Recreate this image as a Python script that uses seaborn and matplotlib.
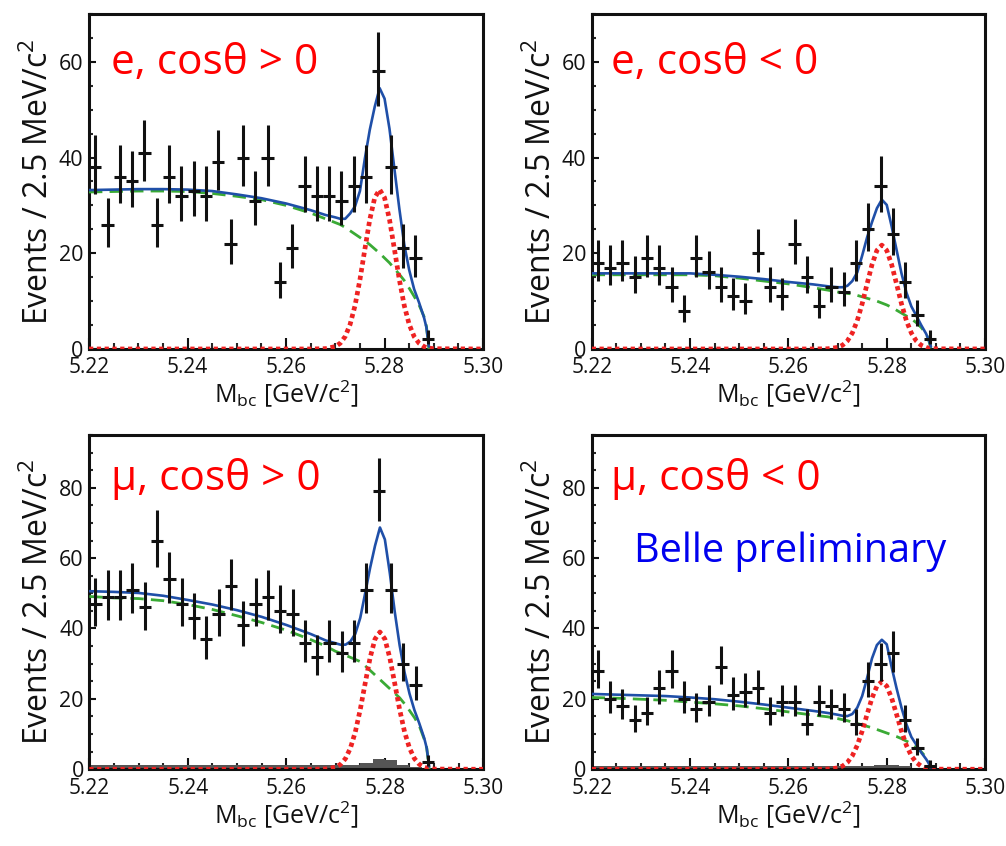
import numpy as np
import pandas as pd
import matplotlib
matplotlib.use("Agg")
import matplotlib.pyplot as plt
import seaborn as sns
from matplotlib.ticker import MultipleLocator

sns.set_theme(style="ticks")
plt.rcParams["font.family"] = ["Open Sans", "DejaVu Sans"]
plt.rcParams["mathtext.fontset"] = "custom"
plt.rcParams["mathtext.rm"] = "Open Sans"
plt.rcParams["mathtext.it"] = "Open Sans:italic"
plt.rcParams["mathtext.bf"] = "Open Sans:bold"

# ---------------- data ----------------
x_lo, x_hi, bin_width = 5.22, 5.30, 0.0025
n_filled = 28  # bins with entries (up to 5.29)

counts_e_pos = [38, 26, 36, 35, 41, 26, 36, 32, 33, 32, 39, 22, 40, 31, 40, 14,
                21, 34, 32, 32, 31, 34, 36, 58, 38, 21, 19, 2]
counts_e_neg = [18, 17, 18, 15, 19, 17, 13, 8, 19, 16, 13, 11, 10, 20, 13, 11,
                22, 15, 9, 13, 12, 18, 25, 34, 24, 14, 7, 2]
counts_mu_pos = [47, 49, 49, 51, 46, 65, 54, 47, 43, 37, 44, 52, 41, 47, 49, 45,
                 44, 36, 32, 36, 33, 36, 51, 79, 51, 30, 24, 2]
counts_mu_neg = [28, 20, 18, 14, 16, 23, 28, 20, 17, 19, 29, 21, 22, 23, 16, 19,
                 19, 13, 19, 18, 17, 13, 25, 30, 33, 14, 6, 1]

# peaking background histogram (grey), 32 bins
peak_mu_pos = [1.2, 1.2, 1.2, 1.2, 1.2, 1.2, 1.2, 1.2, 1.2, 1.2, 1.2, 1.2, 1.2, 1.2,
               1.2, 1.2, 1.2, 1.2, 1.2, 1.2, 1.2, 1.2, 1.8, 2.8, 2.7, 1.2, 0.7, 0.4,
               0.0, 0.0, 0.0, 0.0]
peak_mu_neg = [0.8, 0.8, 0.8, 0.8, 0.8, 0.8, 0.8, 0.8, 0.8, 0.8, 0.8, 0.8, 0.8, 0.8,
               0.8, 0.8, 0.8, 0.8, 0.8, 0.8, 0.8, 0.8, 0.8, 1.3, 1.3, 0.8, 0.4, 0.2,
               0.0, 0.0, 0.0, 0.0]

# fit curves sampled along M_bc
mbc_grid = [5.220, 5.225, 5.230, 5.235, 5.240, 5.245, 5.250, 5.255, 5.260, 5.265,
            5.268, 5.270, 5.271, 5.272, 5.273, 5.274, 5.275, 5.276, 5.277, 5.278,
            5.279, 5.280, 5.281, 5.282, 5.283, 5.284, 5.285, 5.286, 5.287, 5.288,
            5.2885, 5.289, 5.290, 5.300]
n_bkg = 32  # background / total end at the kinematic endpoint 5.289

sig_shape = [0, 0, 0, 0, 0, 0, 0, 0, 0, 0,
             0.002, 0.015, 0.036, 0.078, 0.154, 0.272, 0.435, 0.626, 0.812, 0.949,
             1.0, 0.949, 0.812, 0.626, 0.435, 0.272, 0.154, 0.078, 0.036, 0.015,
             0.009, 0.0055, 0.0015, 0.0]
sig_amp = [33.3, 21.7, 39.0, 24.9]

bkg_e_pos = [32.8, 32.9, 33.0, 33.0, 32.9, 32.5, 31.9, 31.2, 30.0, 28.4,
             27.2, 26.4, 26.0, 25.4, 24.7, 24.0, 23.3, 22.6, 21.8, 20.9,
             20.0, 19.0, 18.0, 16.8, 15.6, 14.3, 12.7, 11.0, 9.2, 6.8, 4.7, 0.0]
bkg_e_neg = [15.5, 15.5, 15.5, 15.5, 15.5, 15.3, 14.8, 14.2, 13.6, 12.8,
             12.3, 11.9, 11.8, 11.6, 11.5, 11.2, 10.9, 10.6, 10.3, 10.0,
             9.6, 9.2, 8.7, 8.1, 7.5, 6.9, 6.3, 5.5, 4.5, 3.2, 2.0, 0.0]
bkg_mu_pos = [49.1, 48.7, 48.5, 47.9, 46.8, 45.4, 43.6, 41.7, 39.5, 36.8,
              35.0, 33.5, 33.0, 32.4, 31.8, 31.2, 30.6, 29.4, 28.1, 26.8,
              25.5, 24.2, 22.9, 21.6, 20.3, 18.6, 16.7, 14.7, 12.3, 8.5, 6.0, 0.0]
bkg_mu_neg = [20.4, 20.2, 19.9, 19.6, 19.1, 18.6, 18.0, 17.2, 16.3, 15.4,
              14.9, 14.4, 14.1, 13.8, 13.4, 13.0, 12.6, 12.2, 11.8, 11.3,
              10.8, 10.3, 9.8, 9.3, 8.7, 8.0, 7.3, 6.3, 5.0, 3.4, 2.2, 0.0]

tot_e_pos = [33.2, 33.3, 33.4, 33.4, 33.3, 33.0, 32.3, 31.5, 30.4, 29.0,
             28.0, 27.5, 27.2, 27.2, 28.3, 29.8, 33.0, 39.8, 45.8, 50.6,
             54.5, 52.3, 46.0, 37.6, 29.3, 21.8, 16.5, 12.5, 9.7, 6.6, 4.5, 0.5]
tot_e_neg = [15.8, 15.8, 15.8, 15.8, 15.8, 15.5, 15.1, 14.6, 14.0, 13.5,
             13.1, 12.9, 12.9, 13.2, 14.2, 16.0, 19.5, 23.3, 26.5, 29.4,
             31.2, 30.1, 25.6, 20.7, 15.8, 11.8, 8.9, 7.0, 5.0, 3.2, 2.0, 0.5]
tot_mu_pos = [50.6, 50.4, 50.1, 49.3, 48.1, 46.8, 45.2, 43.3, 41.0, 38.4,
              36.6, 35.8, 35.4, 35.4, 36.3, 38.5, 43.0, 50.0, 57.2, 63.5,
              68.7, 65.3, 55.8, 44.8, 35.2, 27.5, 21.5, 16.8, 13.0, 8.8, 6.0, 0.8]
tot_mu_neg = [21.4, 21.2, 21.0, 20.8, 20.4, 19.9, 19.2, 18.4, 17.5, 16.6,
              16.0, 15.5, 15.2, 15.1, 15.7, 17.5, 20.8, 25.9, 31.5, 35.3,
              36.8, 35.5, 29.0, 23.0, 17.5, 12.8, 9.2, 7.0, 4.8, 2.9, 1.8, 0.3]

titles = ["e, cos\u03b8 > 0", "e, cos\u03b8 < 0", "\u03bc, cos\u03b8 > 0", "\u03bc, cos\u03b8 < 0"]
y_tops = [70, 70, 95, 95]
x_ticks = [5.22, 5.24, 5.26, 5.28, 5.30]
x_ticklabels = ["5.22", "5.24", "5.26", "5.28", "5.30"]

panels = [
    (counts_e_pos, bkg_e_pos, tot_e_pos, None),
    (counts_e_neg, bkg_e_neg, tot_e_neg, None),
    (counts_mu_pos, bkg_mu_pos, tot_mu_pos, peak_mu_pos),
    (counts_mu_neg, bkg_mu_neg, tot_mu_neg, peak_mu_neg),
]

# ---------------- figure ----------------
fig = plt.figure(figsize=(10.06, 8.46), dpi=100)
positions = [[0.0885, 0.5875, 0.3917, 0.3960],
             [0.5882, 0.5875, 0.3910, 0.3960],
             [0.0888, 0.0907, 0.3917, 0.3952],
             [0.5882, 0.0907, 0.3910, 0.3952]]

n_bins = int(round((x_hi - x_lo) / bin_width))
edges = np.linspace(x_lo, x_hi, n_bins + 1)
centers = 0.5 * (edges[:-1] + edges[1:])

for i, (counts, bkg, tot, peak) in enumerate(panels):
    ax = fig.add_axes(positions[i])
    ax.set_facecolor("white")
    # peaking background histogram
    if peak is not None:
        ax.bar(centers, peak, width=bin_width, color="#555555", linewidth=0,
               align="center", zorder=1)
    grid = np.array(mbc_grid)
    sig = sig_amp[i] * np.array(sig_shape)
    df_sig = pd.DataFrame({"x": grid, "y": sig})
    df_bkg = pd.DataFrame({"x": grid[:n_bkg], "y": bkg})
    df_tot = pd.DataFrame({"x": grid[:n_bkg], "y": tot})
    sns.lineplot(data=df_bkg, x="x", y="y", ax=ax, color="#3aaa35",
                 linewidth=2.0, linestyle=(0, (4.8, 2.6)), zorder=3)
    sns.lineplot(data=df_sig, x="x", y="y", ax=ax, color="#ee2222",
                 linewidth=3.4, linestyle=(0, (0.9, 0.75)), zorder=4)
    sns.lineplot(data=df_tot, x="x", y="y", ax=ax, color="#1f4fa8",
                 linewidth=1.9, zorder=5)
    # data points with Poisson errors
    n = np.array(counts, dtype=float)
    lo = np.sqrt(n + 0.25) - 0.5
    hi = np.sqrt(n + 0.25) + 0.5
    ax.errorbar(centers[:n_filled], n, yerr=[lo, hi], xerr=bin_width / 2,
                fmt="none", ecolor="#111111", elinewidth=2.2, capsize=0, zorder=6)

    ax.set_xlim(x_lo, x_hi)
    ax.set_ylim(0, y_tops[i])
    ax.set_xticks(x_ticks)
    ax.set_xticklabels(x_ticklabels)
    ax.xaxis.set_minor_locator(MultipleLocator(0.005))
    ax.yaxis.set_major_locator(MultipleLocator(20))
    ax.yaxis.set_minor_locator(MultipleLocator(5))
    ax.tick_params(axis="x", which="major", direction="in", length=8, width=1.5,
                   labelsize=15, pad=6, colors="#111111", top=False)
    ax.tick_params(axis="x", which="minor", direction="in", length=4.6, width=1.5,
                   top=False)
    ax.tick_params(axis="y", which="major", direction="in", length=5, width=1.5,
                   labelsize=15.5, pad=4, colors="#111111", right=False)
    ax.tick_params(axis="y", which="minor", direction="in", length=3.2, width=1.5,
                   right=False)
    for sp in ax.spines.values():
        sp.set_linewidth(2.2)
        sp.set_color("#111111")
        sp.set_visible(True)
    ax.set_xlabel(r"M$_{\mathrm{bc}}$ [GeV/c$^{2}$]", fontsize=18, labelpad=0,
                  color="#111111")
    ax.set_ylabel(r"Events / 2.5 MeV/c$^{2}$", fontsize=23, labelpad=2,
                  color="#111111")
    ax.text(0.055 if i % 2 == 0 else 0.048, 0.82 if i < 2 else 0.835, titles[i],
            transform=ax.transAxes, color="#ff0000", fontsize=30.5, va="baseline",
            ha="left")
    if i == 3:
        ax.text(0.108, 0.621, "Belle preliminary", transform=ax.transAxes,
                color="#0000ee", fontsize=28.5, va="baseline", ha="left")

fig.savefig("out.png", dpi=100, facecolor="white")
